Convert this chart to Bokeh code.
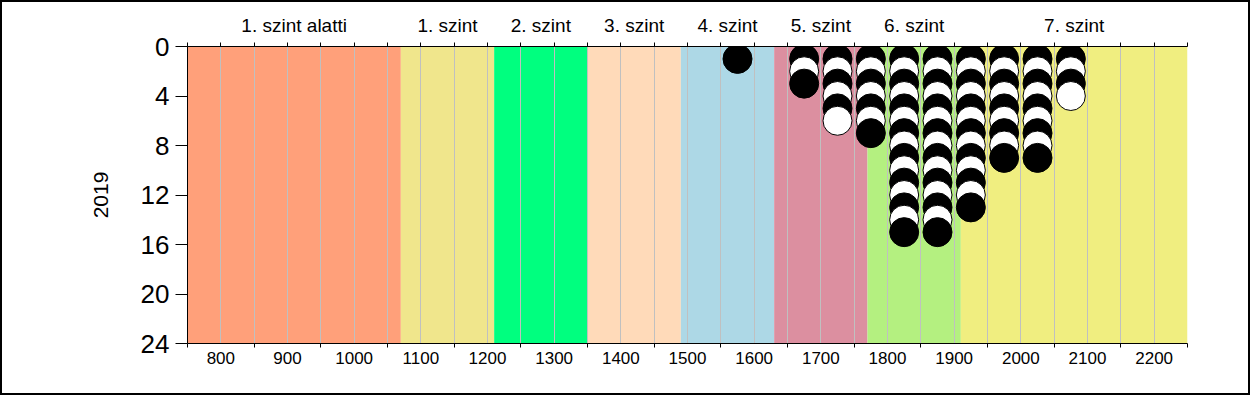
from bokeh.plotting import figure
from bokeh.models import Range1d, LinearAxis, FixedTicker, ColumnDataSource
from bokeh.embed import file_html
from bokeh.resources import INLINE

# ---- data ----
level_names = ["1. szint alatti", "1. szint", "2. szint", "3. szint", "4. szint",
               "5. szint", "6. szint", "7. szint"]
level_edges = [750, 1070, 1210, 1350, 1490, 1630, 1770, 1910, 2250]
level_colors = ["#FFA07A", "#F0E68C", "#00FF7F", "#FFDAB9", "#ADD8E6",
                "#DC8FA0", "#B4F080", "#F0EE80"]

score_bins = [1575, 1675, 1725, 1775, 1825, 1875, 1925, 1975, 2025, 2075]
counts = [1, 3, 6, 7, 15, 15, 13, 9, 9, 4]

x_tick_labels = [800, 900, 1000, 1100, 1200, 1300, 1400, 1500, 1600, 1700,
                 1800, 1900, 2000, 2100, 2200]
x_minor_ticks = [750, 850, 950, 1050, 1150, 1250, 1350, 1450, 1550, 1650,
                 1750, 1850, 1950, 2050, 2150, 2250]
y_ticks = [0, 4, 8, 12, 16, 20, 24]
year_label = "2019"

FONT = "Liberation Sans"

# ---- figure ----
p = figure(width=1246, height=391, x_range=Range1d(750, 2250), y_range=Range1d(24, 0),
           output_backend="svg", toolbar_location=None,
           min_border_left=185, min_border_right=65, min_border_top=44, min_border_bottom=54)
p.styles = {"border": "2px solid black", "box-sizing": "content-box"}
p.outline_line_color = None
p.background_fill_color = "white"
p.border_fill_color = "white"

# level bands
band_src = ColumnDataSource(dict(left=level_edges[:-1], right=level_edges[1:],
                                 color=level_colors))
bands = p.quad(left="left", right="right", bottom=24, top=0, fill_color="color",
               line_color=None, source=band_src)
bands.level = "image"

# dots
xs, ys, cols = [], [], []
for b, n in zip(score_bins, counts):
    for k in range(1, n + 1):
        xs.append(b)
        ys.append(k)
        cols.append("black" if k % 2 == 1 else "white")
p.scatter(x=xs, y=ys, size=29, fill_color=cols, line_color="black", line_width=1)

# grid
all50 = sorted(x_tick_labels + x_minor_ticks)
p.xgrid.ticker = FixedTicker(ticks=all50)
p.xgrid.grid_line_color = "#C0C0C0"
p.xgrid.grid_line_width = 1
p.ygrid.visible = False

# bottom axis
xa = p.xaxis[0]
xa.ticker = FixedTicker(ticks=x_tick_labels, minor_ticks=x_minor_ticks)
xa.major_tick_out = 0
xa.major_tick_in = 0
xa.minor_tick_out = 4
xa.minor_tick_in = 0
xa.axis_line_color = "black"
xa.minor_tick_line_color = "black"
xa.major_label_text_font = FONT
xa.major_label_text_font_size = "17px"
xa.major_label_text_color = "black"
xa.major_label_standoff = 4

# left axis
ya = p.yaxis[0]
ya.ticker = FixedTicker(ticks=y_ticks)
ya.major_tick_out = 12
ya.major_tick_in = 0
ya.minor_tick_out = 0
ya.axis_line_color = "black"
ya.major_label_text_font = FONT
ya.major_label_text_font_size = "26px"
ya.major_label_text_color = "black"
ya.major_label_standoff = 6
ya.axis_label = year_label
ya.axis_label_text_font = FONT
ya.axis_label_text_font_size = "21px"
ya.axis_label_text_font_style = "normal"
ya.axis_label_text_color = "black"
ya.axis_label_standoff = 30

# top axis with level names
centers = [(a + b) // 2 for a, b in zip(level_edges[:-1], level_edges[1:])]
ta = LinearAxis(ticker=FixedTicker(ticks=centers, minor_ticks=all50),
                major_label_overrides={c: n for c, n in zip(centers, level_names)})
ta.major_tick_out = 0
ta.major_tick_in = 0
ta.minor_tick_out = 4
ta.minor_tick_in = 0
ta.axis_line_color = "black"
ta.minor_tick_line_color = "black"
ta.major_label_text_font = FONT
ta.major_label_text_font_size = "19px"
ta.major_label_text_color = "black"
ta.major_label_standoff = 7
p.add_layout(ta, "above")

open("out.html", "w").write(file_html(p, INLINE))
